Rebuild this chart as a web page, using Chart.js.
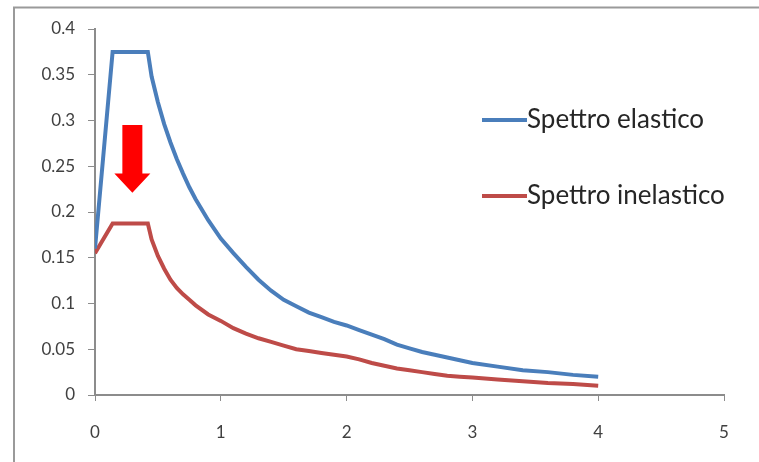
<!DOCTYPE html>
<html>
<head>
<meta charset="utf-8">
<script src="https://cdn.jsdelivr.net/npm/chart.js@4/dist/chart.umd.min.js"></script>
<style>
  html, body { margin: 0; padding: 0; background: #fff; }
  #wrap { position: relative; width: 759px; height: 462px; }
</style>
</head>
<body>
<div id="wrap"><canvas id="spectrum-chart"></canvas></div>
<script>
// Period T (s), shared by both spectra
const periods = [0, 0.14, 0.42, 0.45, 0.5, 0.55, 0.6, 0.65, 0.7, 0.75, 0.8, 0.9, 1.0,
    1.1, 1.2, 1.3, 1.4, 1.5, 1.6, 1.7, 1.8, 1.9, 2.0, 2.1, 2.2, 2.3, 2.4, 2.5,
    2.6, 2.7, 2.8, 2.9, 3.0, 3.2, 3.4, 3.6, 3.8, 4.0];

const elasticValues = [0.16, 0.375, 0.375, 0.348, 0.320, 0.296, 0.276, 0.258, 0.242, 0.227, 0.214, 0.191, 0.171,
    0.155, 0.140, 0.126, 0.114, 0.104, 0.097, 0.090, 0.085, 0.080, 0.076, 0.071, 0.066, 0.061, 0.055, 0.051,
    0.047, 0.044, 0.041, 0.038, 0.035, 0.031, 0.027, 0.025, 0.022, 0.020];

const inelasticValues = [0.155, 0.1875, 0.1875, 0.170, 0.152, 0.138, 0.126, 0.117, 0.110, 0.104, 0.098, 0.088, 0.081,
    0.073, 0.067, 0.062, 0.058, 0.054, 0.050, 0.048, 0.046, 0.044, 0.042, 0.039, 0.035, 0.032, 0.029, 0.027,
    0.025, 0.023, 0.021, 0.020, 0.019, 0.017, 0.015, 0.013, 0.012, 0.010];

const seriesLabels = ['Spettro elastico', 'Spettro inelastico'];
const seriesColors = ['#4A7EBB', '#BE4B48'];

// red arrow (elastic -> inelastic), in data units: x, then top / head start / tip
const arrowX = 0.297;
const arrowY = [0.295, 0.242, 0.221];

const AXIS_GREY = '#8C8C8C';
const FONT = 'Lato, "Open Sans", sans-serif';

const frameAndExtras = {
    id: 'frameAndExtras',
    afterDraw(chart) {
        const { ctx, scales: { x, y } } = chart;
        ctx.save();

        // outer frame (only top + left show in the original)
        ctx.strokeStyle = '#9a9a9a';
        ctx.lineWidth = 2;
        ctx.beginPath();
        ctx.moveTo(14, 462); ctx.lineTo(14, 7.5); ctx.lineTo(759, 7.5);
        ctx.stroke();

        // arrow
        const cx = x.getPixelForValue(arrowX);
        const yTop = y.getPixelForValue(arrowY[0]);
        const yHead = y.getPixelForValue(arrowY[1]);
        const yTip = y.getPixelForValue(arrowY[2]);
        ctx.fillStyle = '#FF0000';
        ctx.beginPath();
        ctx.moveTo(cx - 10, yTop);
        ctx.lineTo(cx + 10, yTop);
        ctx.lineTo(cx + 10, yHead);
        ctx.lineTo(cx + 18, yHead);
        ctx.lineTo(cx, yTip);
        ctx.lineTo(cx - 18, yHead);
        ctx.lineTo(cx - 10, yHead);
        ctx.closePath();
        ctx.fill();

        // legend
        const rows = [120, 196];
        chart.data.datasets.forEach((ds, i) => {
            ctx.strokeStyle = ds.borderColor;
            ctx.lineWidth = 4;
            ctx.beginPath();
            ctx.moveTo(482, rows[i]);
            ctx.lineTo(527, rows[i]);
            ctx.stroke();
            ctx.fillStyle = '#262626';
            ctx.font = `26px ${FONT}`;
            ctx.textBaseline = 'middle';
            ctx.textAlign = 'left';
            ctx.fillText(ds.label, 527, rows[i]);
        });
        ctx.restore();
    }
};

new Chart(document.getElementById('spectrum-chart'), {
    type: 'line',
    data: {
        datasets: [
            {
                label: seriesLabels[0],
                data: periods.map((t, i) => ({ x: t, y: elasticValues[i] })),
                borderColor: seriesColors[0],
                borderWidth: 4, pointRadius: 0, tension: 0,
            },
            {
                label: seriesLabels[1],
                data: periods.map((t, i) => ({ x: t, y: inelasticValues[i] })),
                borderColor: seriesColors[1],
                borderWidth: 4, pointRadius: 0, tension: 0,
            },
        ],
    },
    options: {
        responsive: true, maintainAspectRatio: false, animation: false,
        layout: { padding: { left: 15, top: 29, right: 35, bottom: 20 } },
        plugins: { legend: { display: false }, tooltip: { enabled: false } },
        scales: {
            x: {
                type: 'linear', min: 0, max: 5,
                ticks: { stepSize: 1, color: '#404040', padding: 21, font: { family: FONT, size: 17 } },
                grid: { drawOnChartArea: false, color: AXIS_GREY, tickLength: 6 },
                border: { color: AXIS_GREY, width: 2 },
                afterFit(s) { s.height = 47; },
            },
            y: {
                min: 0, max: 0.4,
                ticks: { stepSize: 0.05, color: '#404040', padding: 13, font: { family: FONT, size: 17 },
                    callback: v => Math.round(v * 100) / 100 },
                grid: { drawOnChartArea: false, color: AXIS_GREY, tickLength: 7 },
                border: { color: AXIS_GREY, width: 2 },
                afterFit(s) { s.width = 80; },
            },
        },
    },
    plugins: [frameAndExtras],
});
</script>
</body>
</html>
